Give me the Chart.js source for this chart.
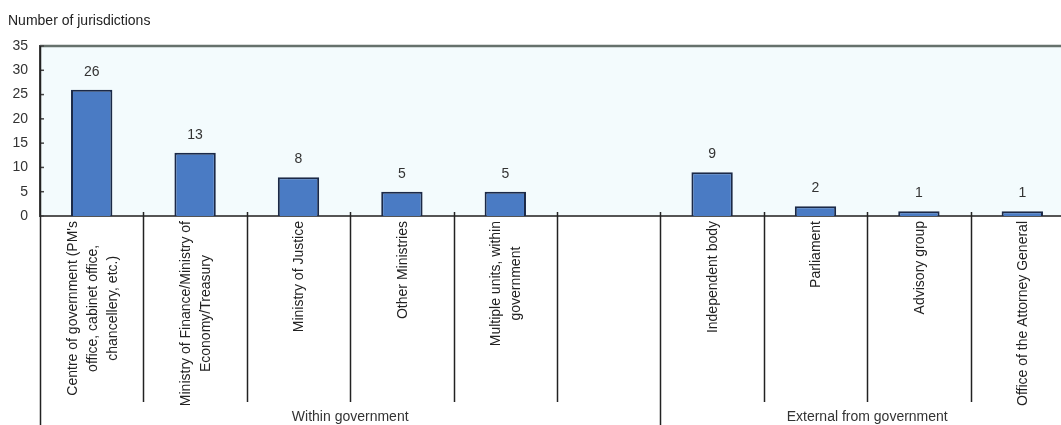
<!DOCTYPE html>
<html>
<head>
<meta charset="utf-8">
<script src="https://cdn.jsdelivr.net/npm/chart.js@4.4.1/dist/chart.umd.min.js"></script>
<style>
  html, body { margin: 0; padding: 0; background: #fff; overflow: hidden; }
  #wrap { width: 1080px; height: 425px; }
</style>
</head>
<body>
<div id="wrap"><canvas id="unitsChart" width="1080" height="425"></canvas></div>
<script>
const categories = [
  ["Centre of government (PM's", "office, cabinet office,", "chancellery, etc.)"],
  ["Ministry of Finance/Ministry of", "Economy/Treasury"],
  ["Ministry of Justice"],
  ["Other Ministries"],
  ["Multiple units, within", "government"],
  [""],
  ["Independent body"],
  ["Parliament"],
  ["Advisory group"],
  ["Office of the Attorney General"]
];
const jurisdictions = [26, 13, 8, 5, 5, null, 9, 2, 1, 1];
const groupNames = ['Within government', 'External from government'];
const groupStart = [0, 6];
const groupEnd = [5, 9];
const yMin = 0, yMax = 35, yStep = 5;
const yTitle = 'Number of jurisdictions';

const FONT = "'Liberation Sans', Arial, sans-serif";

// background, top frame, separators, labels
const decorPlugin = {
  id: 'decor',
  beforeDraw(chart) {
    const { ctx, chartArea } = chart;
    ctx.save();
    ctx.fillStyle = '#f3fbfd';
    ctx.fillRect(chartArea.left, chartArea.top, chartArea.right - chartArea.left, chartArea.bottom - chartArea.top);
    ctx.restore();
  },
  afterDraw(chart) {
    const { ctx, chartArea } = chart;
    const x = chart.scales.x, y = chart.scales.y;
    const half = (x.getPixelForValue(1) - x.getPixelForValue(0)) / 2;
    ctx.save();

    // top frame line
    ctx.strokeStyle = '#66716c';
    ctx.lineWidth = 2.5;
    ctx.beginPath();
    ctx.moveTo(chartArea.left, chartArea.top);
    ctx.lineTo(chartArea.right, chartArea.top);
    ctx.stroke();

    // small inner ticks on the value axis
    ctx.strokeStyle = '#444';
    ctx.lineWidth = 1.5;
    y.ticks.forEach(t => {
      const py = y.getPixelForValue(t.value);
      ctx.beginPath();
      ctx.moveTo(chartArea.left, py);
      ctx.lineTo(chartArea.left + 4, py);
      ctx.stroke();
    });

    // category separators
    ctx.strokeStyle = '#222';
    ctx.lineWidth = 1.5;
    for (let i = 0; i < categories.length; i++) {
      const px = Math.round(x.getPixelForValue(i) - half) + 0.5;
      const long = groupStart.includes(i);
      ctx.beginPath();
      ctx.moveTo(px, long && i === 0 ? chartArea.top : chartArea.bottom - 4);
      ctx.lineTo(px, long ? chart.height : 402);
      ctx.stroke();
    }

    // category labels, rotated and centred line by line
    ctx.fillStyle = '#222';
    ctx.font = '14px ' + FONT;
    ctx.textAlign = 'center';
    ctx.textBaseline = 'middle';
    const lh = 20;
    categories.forEach((lines, i) => {
      const widest = Math.max(...lines.map(s => ctx.measureText(s).width));
      const cx = x.getPixelForValue(i) + 1;
      const cy = chartArea.bottom + 5 + widest / 2;
      ctx.save();
      ctx.translate(cx, cy);
      ctx.rotate(-Math.PI / 2);
      lines.forEach((s, k) => {
        ctx.fillText(s, 0, (k - (lines.length - 1) / 2) * lh);
      });
      ctx.restore();
    });

    // group labels
    ctx.fillStyle = '#333';
    groupNames.forEach((g, k) => {
      const gx = (x.getPixelForValue(groupStart[k]) + x.getPixelForValue(groupEnd[k])) / 2;
      ctx.fillText(g, gx, 417);
    });

    // axis title
    ctx.textAlign = 'left';
    ctx.fillStyle = '#222';
    ctx.fillText(yTitle, 8, 21);
    ctx.restore();
  },
  afterDatasetsDraw(chart) {
    const { ctx } = chart;
    const meta = chart.getDatasetMeta(0);
    ctx.save();
    ctx.fillStyle = '#333';
    ctx.font = '14px ' + FONT;
    ctx.textAlign = 'center';
    ctx.textBaseline = 'middle';
    meta.data.forEach((bar, i) => {
      if (jurisdictions[i] == null) return;
      ctx.fillText(String(jurisdictions[i]), bar.x, bar.y - 18);
    });
    ctx.restore();
  }
};

const ctx = document.getElementById('unitsChart').getContext('2d');
new Chart(ctx, {
  type: 'bar',
  data: {
    labels: categories,
    datasets: [{
      label: yTitle,
      data: jurisdictions,
      backgroundColor: '#4a7bc4',
      borderColor: '#1b2947',
      borderWidth: 2,
      barPercentage: 0.4,
      categoryPercentage: 1.0
    }]
  },
  options: {
    responsive: false,
    animation: false,
    layout: { padding: { top: 46, left: 0, right: 6, bottom: 0 } },
    plugins: {
      legend: { display: false },
      tooltip: { enabled: false }
    },
    scales: {
      x: {
        grid: { display: false },
        border: { display: true, color: '#555', width: 2 },
        ticks: { display: false },
        afterFit(scale) { scale.height = 209; }
      },
      y: {
        min: yMin,
        max: yMax,
        grid: { display: false, drawTicks: false, tickLength: 0 },
        border: { display: true, color: '#444', width: 1.5 },
        ticks: {
          stepSize: yStep,
          padding: 12,
          color: '#333',
          font: { family: FONT, size: 14 }
        },
        afterFit(scale) { scale.width = 40; }
      }
    }
  },
  plugins: [decorPlugin]
});
</script>
</body>
</html>
